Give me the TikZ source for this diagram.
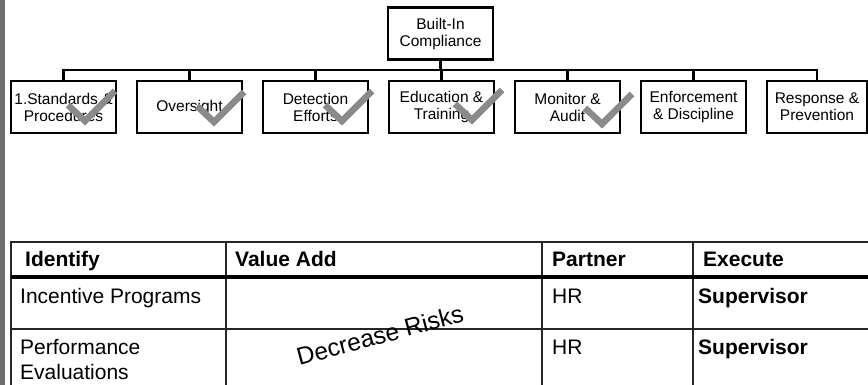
\documentclass[tikz,border=0pt]{standalone}
\usepackage{fontspec}
\setmainfont{Liberation Sans}
\usetikzlibrary{positioning}
\definecolor{tickgray}{HTML}{8A8A8A}
\definecolor{bargray}{HTML}{6E6E6E}

\begin{document}
\begin{tikzpicture}[x=1pt,y=-1pt,
    area/.style={rectangle,draw,line width=2.6pt,outer sep=0pt,minimum width=105pt,minimum height=52pt,inner sep=1pt,align=center,font=\fontsize{15.5}{17}\selectfont},
    link/.style={line width=2.6pt},
    tick/.style={draw=tickgray,line width=6.5pt},
    grid/.style={line width=1.6pt,draw=black!85},
    cell/.style={anchor=base west,inner sep=0pt,align=left,font=\fontsize{21}{25}\selectfont},
    head/.style={cell,font=\fontsize{21}{25}\selectfont\bfseries}]
    \useasboundingbox (0,0) rectangle (868,385);
    \fill[bargray] (0,0) rectangle (5,385);

    % Compliance elements
    \node[area] (root) at (440.5,33.5) {Built-In\\Compliance};
    \node[area] (standards) at (63.5,107) {1.Standards \&\\Procedures};
    \node[area,right=21pt of standards] (oversight) {Oversight};
    \node[area,right=21pt of oversight] (detection) {Detection\\Efforts};
    \node[area,right=21pt of detection] (education) {Education \&\\Training};
    \node[area,right=21pt of education] (monitor) {Monitor \&\\Audit};
    \node[area,right=21pt of monitor] (enforcement) {Enforcement\\\& Discipline};
    \node[area,minimum width=100pt,right=21pt of enforcement] (response) {Response \&\\Prevention};

    \coordinate (bus) at (440.5,70);
    \foreach \n in {standards,oversight,detection,education,monitor,enforcement,response}
        \draw[link] (root.south) -- (bus) -| (\n.north);

    % Ticks for the covered elements
    \draw[tick] ([shift={(-48,24)}]standards.north east) -- ++(17,16) -- ++(30,-30);
    \draw[tick] ([shift={(-45,25)}]oversight.north east) -- ++(17,16) -- ++(30,-30);
    \draw[tick] ([shift={(-43,24)}]detection.north east) -- ++(17,16) -- ++(30,-30);
    \draw[tick] ([shift={(-39,23)}]education.north east) -- ++(17,16) -- ++(30,-30);
    \draw[tick] ([shift={(-35,27)}]monitor.north east) -- ++(17,16) -- ++(30,-30);

    % Table
    \draw[grid] (11,385) -- (11,242) -- (868,242);
    \foreach \x in {226,542,693}
        \draw[grid] (\x,242) -- (\x,385);
    \draw[line width=4pt] (11,277) -- (868,277);
    \draw[grid] (11,329) -- (868,329);

    \node[head] (identify) at (25,266.5) {Identify};
    \node[head] (valueadd) at (235,266.5) {Value Add};
    \node[head] (partner) at (552,266.5) {Partner};
    \node[head] (execute) at (703,266.5) {Execute};

    \node[cell] (incentive) at (20,303.5) {Incentive Programs};
    \node[cell] (hr1) at (552,303.5) {HR};
    \node[head] (super1) at (698,303.5) {Supervisor};
    \node[cell,anchor=west] (performance) at (20,359.4) {Performance\\Evaluations};
    \node[cell] (hr2) at (552,354.5) {HR};
    \node[head] (super2) at (698,354.5) {Supervisor};

    \node[rotate=15,inner sep=0pt,font=\fontsize{24.5}{28}\selectfont] (risks) at (380,335) {Decrease Risks};
\end{tikzpicture}
\end{document}
